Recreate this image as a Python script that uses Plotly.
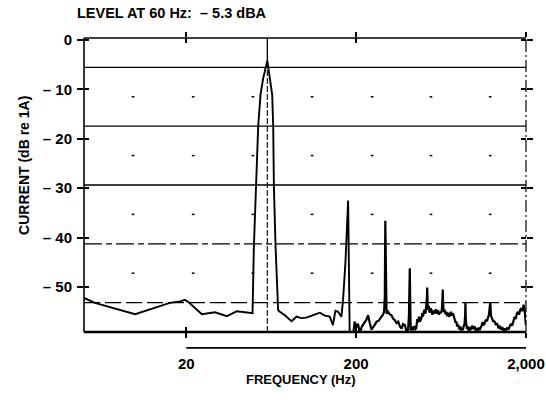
import math
import plotly.graph_objects as go

# ---------------- data ----------------
# segment 1: 5 Hz .. 60 Hz peak .. 180 Hz harmonic
freq_a = [5.0, 5.8, 10.0, 16.0, 18.5, 19.6, 20.5, 24.7, 29.5, 34.7, 39.7, 48.6,
          49.1, 50.0, 51.4, 53.0, 54.7, 56.7, 60.0, 62.1, 64.1, 65.0, 65.6, 67.1,
          69.5, 71.1, 76.1, 83.3, 89.1, 95.0, 102.0, 111.7, 122.2, 130.9, 140.0,
          146.0, 151.0, 156.6, 163.8, 167.5, 173.0, 179.4, 181.0, 183.5]
level_a = [-52.2, -53.2, -55.5, -53.2, -52.9, -52.6, -53.0, -55.5, -55.1, -55.9, -54.9, -55.3,
           -55.3, -41.9, -29.7, -17.6, -11.1, -7.8, -4.2, -7.8, -11.1, -17.6, -29.7, -41.9,
           -54.7, -55.0, -55.7, -56.9, -56.0, -56.3, -56.2, -55.7, -55.2, -55.8, -56.0,
           -57.7, -54.8, -55.0, -56.0, -52.6, -45.0, -32.5, -45.0, -61.0]

# segment 2: 190 Hz .. 2000 Hz
freq_b = [191, 194, 196, 200, 205, 208, 210, 216, 225, 230, 235, 238, 241, 246, 252, 258,
          264, 272, 282, 288, 292, 295, 297, 299, 302, 308, 315, 323, 330, 338, 346, 354,
          362, 370, 378, 387, 393, 398, 404, 409, 412, 414, 416, 419, 424, 432, 440, 447,
          452, 458, 463, 469, 475, 479, 484, 490, 495, 500, 506, 512, 519, 522, 524, 526,
          529, 535, 541, 548, 555, 562, 570, 580, 588, 596, 607, 615, 622, 630, 638, 644,
          647, 650, 656, 664, 672, 679, 688, 697, 705, 714, 724, 733, 743, 752, 762, 770,
          778, 787, 796, 805, 814, 823, 832, 842, 851, 860, 870, 876, 880, 884, 891, 901,
          912, 922, 933, 944, 955, 966, 980, 998, 1010, 1025, 1040, 1055, 1067, 1080, 1095, 1110,
          1125, 1142, 1160, 1178, 1194, 1210, 1225, 1233, 1245, 1260, 1280, 1308, 1330, 1350, 1375, 1400,
          1425, 1450, 1475, 1498, 1525, 1550, 1575, 1602, 1630, 1660, 1690, 1714, 1740, 1765, 1794, 1820,
          1850, 1878, 1905, 1936, 1960, 1985, 1998]
level_b = [-60.5, -57.5, -57.0, -58.2, -57.4, -58.5, -59.4, -58.0, -57.0, -56.6, -55.7, -56.8, -57.4, -58.6, -58.2, -57.6,
           -57.0, -56.8, -56.0, -55.6, -55.0, -52.0, -36.6, -48.0, -55.4, -55.0, -55.5, -55.7, -56.4, -56.7, -57.3, -57.0,
           -58.0, -58.4, -57.5, -57.7, -58.6, -59.3, -58.8, -56.0, -50.0, -46.2, -52.0, -58.8, -58.0, -58.7, -57.9, -58.5,
           -58.3, -56.5, -57.2, -56.0, -57.0, -56.7, -56.4, -55.3, -56.0, -55.0, -54.6, -55.4, -53.6, -52.0, -50.1, -52.5,
           -54.6, -53.8, -55.2, -54.3, -54.6, -55.6, -54.8, -55.3, -54.5, -55.4, -54.7, -55.6, -55.0, -55.3, -54.8, -53.0,
           -50.5, -53.2, -55.1, -54.6, -55.5, -55.0, -55.9, -55.2, -56.0, -55.7, -55.0, -55.8, -55.3, -56.2, -56.6, -57.2,
           -57.0, -58.0, -57.6, -58.4, -58.6, -58.0, -58.8, -58.4, -58.7, -57.9, -57.4, -55.8, -53.2, -56.3, -57.7, -58.5,
           -58.0, -58.9, -58.7, -58.1, -58.6, -57.8, -58.4, -58.0, -58.8, -58.3, -58.9, -58.2, -58.7, -58.0, -57.8, -57.1,
           -57.6, -57.4, -56.6, -56.9, -56.0, -55.6, -53.8, -53.2, -55.8, -56.4, -56.9, -57.0, -57.7, -57.3, -58.2, -58.0,
           -58.6, -58.1, -58.8, -58.4, -58.9, -58.2, -58.6, -58.0, -57.4, -57.8, -56.7, -56.0, -56.5, -55.4, -55.0, -55.6,
           -54.6, -54.3, -54.9, -53.6, -54.5, -56.0, -57.7]
assert len(freq_a) == len(level_a) and len(freq_b) == len(level_b)

y_tickvals = [0, -10, -20, -30, -40, -50]
y_ticktext = ["0", "– 10", "– 20", "– 30", "– 40", "– 50"]
x_tickvals = [20, 200, 2000]
x_ticktext = ["20", "200", "2,000"]
fundamental_hz = 60

F_MIN, F_MAX = 5.0, 2000.0
Y_MIN, Y_MAX = -59.1, 0.4


def xp(f):
    return (math.log10(f) - math.log10(F_MIN)) / (math.log10(F_MAX) - math.log10(F_MIN))


FONT = "Liberation Sans, Arial, Helvetica, sans-serif"

fig = go.Figure()
fig.add_trace(go.Scatter(x=freq_a, y=level_a, mode="lines", line=dict(color="black", width=1.9),
                         showlegend=False, hoverinfo="skip"))
fig.add_trace(go.Scatter(x=freq_b, y=level_b, mode="lines", line=dict(color="black", width=2.2),
                         showlegend=False, hoverinfo="skip"))

shapes = []
# borders
shapes.append(dict(type="line", xref="paper", yref="paper", x0=0, x1=0, y0=0, y1=1,
                   line=dict(color="black", width=1.6)))
shapes.append(dict(type="line", xref="paper", yref="paper", x0=0, x1=1, y0=1, y1=1,
                   line=dict(color="black", width=1.5)))
shapes.append(dict(type="line", xref="paper", yref="paper", x0=1, x1=1, y0=0, y1=1,
                   line=dict(color="black", width=1.2, dash="12px,3px,2px,3px")))
shapes.append(dict(type="line", xref="paper", yref="paper", x0=0, x1=1, y0=0, y1=0,
                   line=dict(color="black", width=2.6)))
# heavy chart-paper grid lines
for gy, dsh in [(0.9, "solid"), (0.7, "solid"), (0.5, "solid"), (0.3, "18px,4px,6px,4px"), (0.1, "16px,5px")]:
    shapes.append(dict(type="line", xref="paper", yref="paper", x0=0, x1=1, y0=gy, y1=gy,
                       line=dict(color="black", width=1.3, dash=dsh)))
# fundamental frequency line (solid above the peak, broken below)
shapes.append(dict(type="line", xref="paper", yref="paper", x0=xp(fundamental_hz), x1=xp(fundamental_hz),
                   y0=0.9, y1=1, line=dict(color="black", width=1.3)))
shapes.append(dict(type="line", xref="paper", yref="paper", x0=xp(fundamental_hz), x1=xp(fundamental_hz),
                   y0=0, y1=0.9, line=dict(color="black", width=1.1, dash="6px,2px")))
# sparse grid dots
cols = [0.111, 0.247, 0.382, 0.516, 0.652, 0.785, 0.919]
for gy in [0.2, 0.4, 0.6, 0.8]:
    for cx in cols:
        shapes.append(dict(type="line", xref="paper", yref="paper", x0=cx - 0.003, x1=cx + 0.003,
                           y0=gy, y1=gy, line=dict(color="black", width=1.5)))
# rule under the axis
shapes.append(dict(type="line", xref="paper", yref="paper", x0=xp(20), x1=1, y0=-0.054, y1=-0.054,
                   line=dict(color="black", width=1.6)))

annotations = [
    dict(text="LEVEL AT 60 Hz:  – 5.3 dBA", xref="paper", yref="paper", x=-0.021, y=1.085,
         xanchor="left", yanchor="middle", showarrow=False,
         font=dict(family=FONT, size=14.5, color="black", weight="bold")),
    dict(text="FREQUENCY (Hz)", xref="paper", yref="paper", x=0.491, y=-0.163,
         xanchor="center", yanchor="middle", showarrow=False,
         font=dict(family=FONT, size=13, color="black", weight="bold")),
    dict(text="CURRENT (dB re 1A)", xref="paper", yref="paper", x=-0.136, y=0.568,
         xanchor="center", yanchor="middle", textangle=-90, showarrow=False,
         font=dict(family=FONT, size=14, color="black", weight="bold")),
]

tickfont = dict(family=FONT, size=15, color="black", weight="bold")

fig.update_layout(
    width=546, height=402,
    margin=dict(l=84, r=20, t=38, b=70, autoexpand=False),
    paper_bgcolor="white", plot_bgcolor="white",
    shapes=shapes, annotations=annotations,
    xaxis=dict(type="log", range=[math.log10(F_MIN), math.log10(F_MAX)],
               tickvals=x_tickvals, ticktext=x_ticktext, tickfont=tickfont,
               ticks="outside", ticklen=5, tickwidth=1.5, tickcolor="black",
               minor=dict(ticks="inside", tickvals=[20, 200], ticklen=5, tickwidth=1.5, tickcolor="black"),
               mirror="ticks", showline=False, showgrid=False, zeroline=False,
               automargin=False, ticklabelstandoff=13),
    yaxis=dict(range=[Y_MIN, Y_MAX], tickvals=y_tickvals, ticktext=y_ticktext, tickfont=tickfont,
               ticks="outside", ticklen=6, tickwidth=1.6, tickcolor="black",
               minor=dict(ticks="inside", tickvals=y_tickvals, ticklen=5, tickwidth=1.6, tickcolor="black"),
               mirror="ticks", showline=False, showgrid=False, zeroline=False,
               automargin=False, ticklabelstandoff=2),
)

fig.write_html("out.html")
